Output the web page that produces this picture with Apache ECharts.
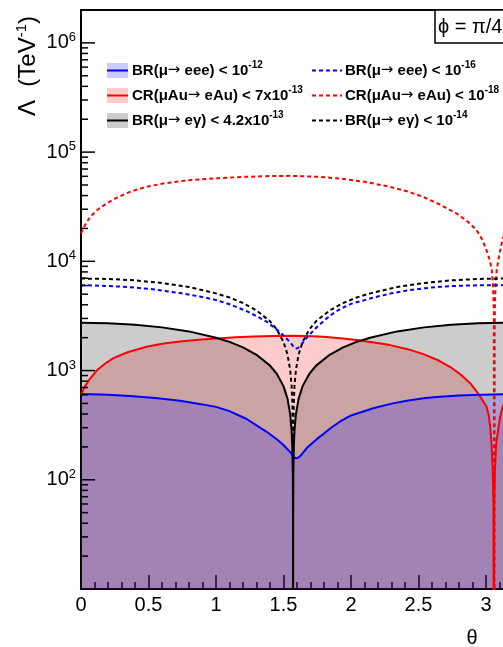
<!DOCTYPE html>
<html><head><meta charset="utf-8">
<script src="https://cdn.jsdelivr.net/npm/echarts@6/dist/echarts.min.js"></script>
<style>html,body{margin:0;padding:0;background:#fff}#c{width:503px;height:647px}</style>
</head><body><div id="c"></div>
<script>
// ---- data ----
const blackTheta = [0,0.2,0.4,0.6,0.8,1.0,1.1,1.2,1.3,1.4,1.45,1.5,1.53,1.55,1.56,1.565,1.569,1.5705,1.5708,1.5711,1.5726,1.5766,1.5816,1.5916,1.6116,1.6416,1.6916,1.7416,1.8416,1.9416,2.0416,2.1416,2.3416,2.5416,2.7416,2.9416,3.1416];
const blackSolidVals = [2735,2708,2625,2485,2283,2000,1830,1630,1395,1110,935,720,550,394,284,208,116,47,1,47,116,208,284,394,550,720,935,1110,1395,1630,1830,2000,2283,2485,2625,2708,2735];
const blackDotVals = [6960,6900,6690,6330,5820,5090,4660,4150,3550,2830,2380,1830,1400,1000,724,530,296,120,1,120,296,530,724,1000,1400,1830,2380,2830,3550,4150,4660,5090,5820,6330,6690,6900,6960];

const blueTheta = [0,0.2,0.363,0.55,0.733,0.9,1.0,1.1,1.227,1.3,1.375,1.45,1.5,1.548,1.57,1.59,1.605,1.63,1.672,1.75,1.795,1.85,1.919,2.0,2.165,2.3,2.413,2.55,2.659,2.8,2.98,3.1416];
const blueSolidVals = [610,600,585,560,530,490,465,425,360,315,275,235,208,180,166,157,158,168,195,238,262,298,342,388,451,498,530,560,577,592,602,608];
const blueDotVals = [6050,5950,5800,5520,5120,4720,4420,4050,3500,3150,2800,2370,2100,1820,1680,1590,1600,1720,2000,2520,2820,3220,3660,4080,4650,5100,5400,5680,5850,5980,6040,6050];

const redTheta = [0,0.03,0.06,0.116,0.18,0.24,0.35,0.487,0.6,0.733,0.87,1.005,1.15,1.277,1.42,1.548,1.67,1.795,1.92,2.042,2.17,2.289,2.42,2.536,2.65,2.733,2.81,2.881,2.93,2.956,2.98,3.004,3.02,3.032,3.042,3.05,3.055,3.058,3.061,3.066,3.074,3.09,3.105,3.12,3.1416];
const redSolidVals = [600,720,820,1000,1160,1300,1480,1650,1760,1845,1915,1970,2015,2045,2070,2080,2070,2040,1975,1900,1810,1710,1570,1415,1235,1083,925,770,645,580,520,467,390,300,205,120,60,1,60,120,205,290,380,450,540];

const redDotTheta = [0,0.03,0.067,0.12,0.19,0.27,0.363,0.48,0.61,0.78,0.98,1.2,1.4,1.548,1.75,1.919,2.1,2.289,2.42,2.536,2.66,2.783,2.87,2.93,2.97,3.004,3.025,3.042,3.052,3.058,3.0625,3.064,3.066,3.072,3.08,3.091,3.11,3.128,3.1416];
const redDotVals = [18000,21500,25500,29500,33900,38500,43300,48000,51600,55000,57300,59300,60300,60600,59500,57300,53500,48100,43500,38900,33000,27400,22800,19300,16000,12600,10500,8500,6000,3500,1,2000,4000,6500,8500,10250,13500,16700,18000];

const yMajorTicks = [100,1000,10000,100000,1000000];
const yDecades = [10,100,1000,10000,100000,1000000];
const minorMult = [2,3,4,5,6,7,8,9];

const legendLeft = [
  'BR(μ{ar|→} eee) < 10{sup|-12}',
  'CR(μAu{ar|→} eAu) < 7x10{sup|-13}',
  'BR(μ{ar|→} eγ) < 4.2x10{sup|-13}'
];
const legendRight = [
  'BR(μ{ar|→} eee) < 10{sup|-16}',
  'CR(μAu{ar|→} eAu) < 10{sup|-18}',
  'BR(μ{ar|→} eγ) < 10{sup|-14}'
];

// ---- build ----
const FONT = '"Liberation Sans", Arial, Helvetica, sans-serif';
const pts = (t, v) => t.map((x, i) => [x, v[i]]);
const yTickData = [];
yMajorTicks.forEach(v => yTickData.push([0, v, 1]));
yDecades.forEach(d => minorMult.forEach(m => { const v = d * m; if (v <= 2000000) yTickData.push([0, v, 0]); }));

function filledSeries(data, color) {
  return {type:'line', data, symbol:'none', silent:true, z:2,
    lineStyle:{color, width:2},
    areaStyle:{color, opacity:0.2, origin:'start'}};
}
function lineSeries(data, color, dashed) {
  return {type:'line', data, symbol:'none', silent:true, z:3,
    lineStyle:{color, width:2, type: dashed ? [4,3] : 'solid'}};
}

const legendRich = {
  sup:{font:'bold 10px ' + FONT, verticalAlign:'top', lineHeight:10},
  ar:{font:'15px "DejaVu Sans", sans-serif'}
};

const chart = echarts.init(document.getElementById('c'));
const rows = [70.5, 95.5, 120.5];
const boxFill = ['#ccccff', '#ffcccc', '#cccccc'];
const lineCol = ['#0000ff', '#ff0000', '#000000'];
const graphics = [];
rows.forEach((y, i) => {
  graphics.push({type:'rect', shape:{x:107, y:y-7.5, width:21, height:15}, style:{fill:boxFill[i]}, z:10});
  graphics.push({type:'line', shape:{x1:107, y1:y, x2:128, y2:y}, style:{stroke:lineCol[i], lineWidth:2}, z:11});
  graphics.push({type:'text', x:132, y:y, z:11, style:{text:legendLeft[i], font:'bold 15px ' + FONT, fill:'#000', verticalAlign:'middle', align:'left', lineHeight:21, rich:legendRich}});
  graphics.push({type:'line', shape:{x1:312, y1:y, x2:342, y2:y}, style:{stroke:lineCol[i], lineWidth:2, lineDash:[4,3]}, z:11});
  graphics.push({type:'text', x:345, y:y, z:11, style:{text:legendRight[i], font:'bold 15px ' + FONT, fill:'#000', verticalAlign:'middle', align:'left', lineHeight:21, rich:legendRich}});
});
// phi box
graphics.push({type:'rect', shape:{x:435, y:10, width:120, height:33}, style:{fill:'#fff', stroke:'#000', lineWidth:1.5}, z:10});
graphics.push({type:'text', x:438, y:27, z:11, style:{text:'ϕ = π/4', font:'20px ' + FONT, fill:'#000', verticalAlign:'middle', align:'left'}});
// axis titles
graphics.push({type:'text', x:28, y:66, rotation:Math.PI/2, z:11, style:{text:'Λ  (TeV{sup|-1})', font:'24px ' + FONT, fill:'#000', align:'center', verticalAlign:'middle', lineHeight:28,
  rich:{sup:{font:'15px ' + FONT, verticalAlign:'top', lineHeight:15}}}});
graphics.push({type:'text', x:472, y:638, z:11, style:{text:'θ', font:'20px ' + FONT, fill:'#000', align:'center', verticalAlign:'middle'}});

chart.setOption({
  animation:false,
  backgroundColor:'#fff',
  grid:{left:81, top:10, width:472.5, height:579, show:true, borderColor:'#000', borderWidth:2, backgroundColor:'transparent', outerBoundsMode:'none', containLabel:false},
  xAxis:{type:'value', min:0, max:3.5, interval:0.5,
    axisLine:{show:true, lineStyle:{color:'#000', width:2}},
    axisTick:{show:true, inside:true, length:14, lineStyle:{color:'#000', width:1.5}},
    minorTick:{show:true, splitNumber:5, length:7, lineStyle:{color:'#000', width:1.5}},
    splitLine:{show:false}, minorSplitLine:{show:false},
    axisLabel:{color:'#000', fontSize:20, fontFamily:FONT, margin:6}},
  yAxis:{type:'log', logBase:10, min:10, max:2000000,
    axisLine:{show:true, lineStyle:{color:'#000', width:2}},
    axisTick:{show:false}, splitLine:{show:false},
    axisLabel:{color:'#000', margin:5,
      formatter:(v) => { const e = Math.round(Math.log10(v)); if (Math.abs(Math.pow(10,e) - v) / v > 1e-6 || e < 2) return ''; return '{b|10}{s|' + e + '}'; },
      rich:{b:{fontSize:20, fontFamily:FONT, color:'#000', lineHeight:24}, s:{fontSize:13, fontFamily:FONT, color:'#000', verticalAlign:'top', lineHeight:13}}}},
  series:[
    filledSeries(pts(redTheta, redSolidVals), '#ff0000'),
    filledSeries(pts(blackTheta, blackSolidVals), '#000000'),
    filledSeries(pts(blueTheta, blueSolidVals), '#0000ff'),
    lineSeries(pts(redDotTheta, redDotVals), '#ff0000', true),
    lineSeries(pts(blackTheta, blackDotVals), '#000000', true),
    lineSeries(pts(blueTheta, blueDotVals), '#0000ff', true),
    {type:'custom', silent:true, z:6, clip:false, data:yTickData, encode:{x:0, y:1},
      renderItem:(params, api) => {
        const p = api.coord([0, api.value(1)]);
        const len = api.value(2) ? 14 : 7;
        return {type:'line', shape:{x1:p[0], y1:p[1], x2:p[0]+len, y2:p[1]}, style:{stroke:'#000', lineWidth:1.5}};
      }}
  ],
  graphic:graphics
});
</script></body></html>
